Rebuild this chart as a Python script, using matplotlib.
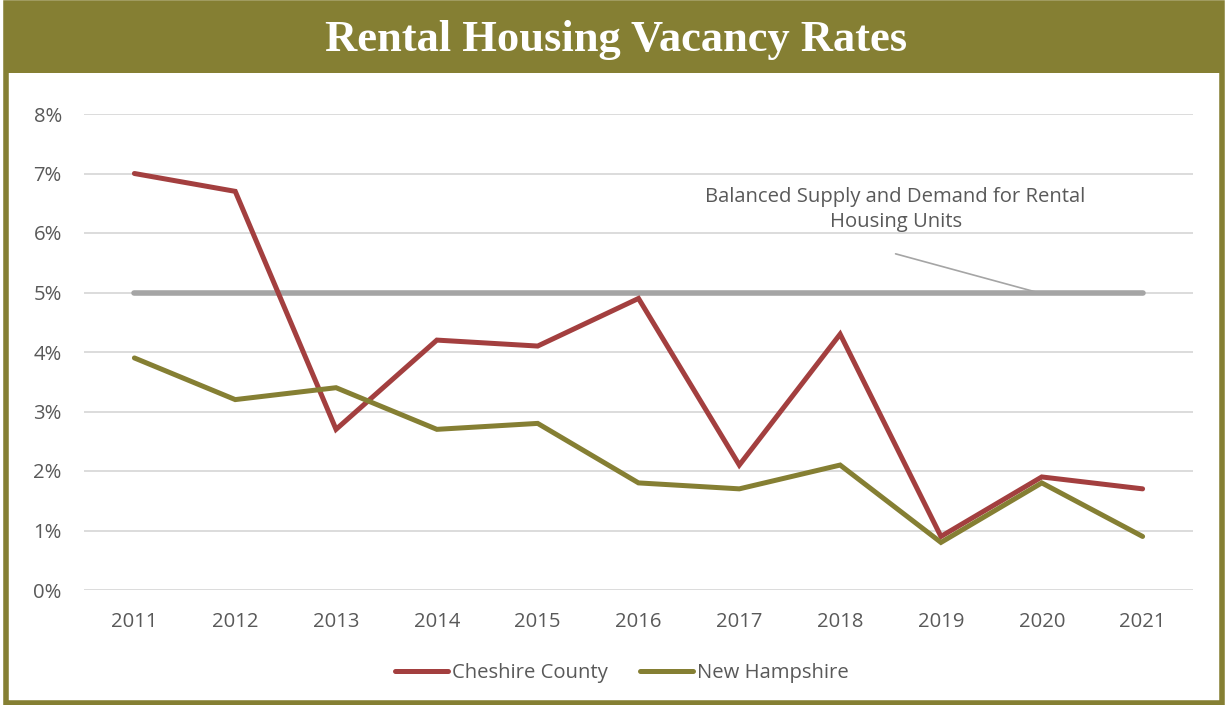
import matplotlib.pyplot as plt
from matplotlib.patches import Rectangle
from matplotlib.ticker import FuncFormatter

years = [2011, 2012, 2013, 2014, 2015, 2016, 2017, 2018, 2019, 2020, 2021]
cheshire = [7.0, 6.7, 2.7, 4.2, 4.1, 4.9, 2.1, 4.3, 0.9, 1.9, 1.7]
new_hampshire = [3.9, 3.2, 3.4, 2.7, 2.8, 1.8, 1.7, 2.1, 0.8, 1.8, 0.9]
balanced = [5.0] * len(years)

OLIVE = "#857F33"
RED = "#A33F3F"
GRAY_LINE = "#A5A5A5"
TEXT = "#595959"
FS = 14.6

W, H = 1225, 705
fig = plt.figure(figsize=(W / 100, H / 100), dpi=100)
plt.rcParams["font.family"] = ["Open Sans", "DejaVu Sans"]


def px(x0, y0, x1, y1):
    # pixel box (top-left origin) -> figure fraction rect
    return [x0 / W, 1 - y1 / H, (x1 - x0) / W, (y1 - y0) / H]


# outer frame and title bar
b = px(6, 3, 1222, 703)
fig.add_artist(Rectangle((b[0], b[1]), b[2], b[3], transform=fig.transFigure,
                         fill=False, edgecolor=OLIVE, linewidth=4))
t = px(4, 3, 1224, 73)
fig.add_artist(Rectangle((t[0], t[1]), t[2], t[3], transform=fig.transFigure,
                         facecolor=OLIVE, edgecolor="none"))
fig.text(616 / W, 1 - 40 / H, "Rental Housing Vacancy Rates", ha="center", va="center",
         color="white", fontsize=32, fontweight="bold", family="Liberation Serif")

ax = fig.add_axes(px(84, 114, 1193, 590))
ax.plot(years, balanced, color=GRAY_LINE, linewidth=4, solid_capstyle="round", zorder=3)
ax.plot(years, cheshire, color=RED, linewidth=3.6, solid_capstyle="round",
        solid_joinstyle="miter", label="Cheshire County", zorder=4)
ax.plot(years, new_hampshire, color=OLIVE, linewidth=3.6, solid_capstyle="round",
        solid_joinstyle="miter", label="New Hampshire", zorder=4)

ax.set_xlim(2010.5, 2021.5)
ax.set_ylim(0, 8)
ax.set_xticks(years)
ax.set_yticks(range(0, 9))
ax.yaxis.set_major_formatter(FuncFormatter(lambda v, p: f"{v:.0f}%"))
ax.grid(axis="y", color="#D9D9D9", linewidth=1.3)
ax.set_axisbelow(True)
for s in ax.spines.values():
    s.set_visible(False)
ax.tick_params(length=0, labelsize=FS, labelcolor=TEXT)
ax.tick_params(axis="y", pad=16)
ax.tick_params(axis="x", pad=16)

ax.text(2018.55, 6.02, "Balanced Supply and Demand for Rental\nHousing Units",
        ha="center", va="bottom", fontsize=FS, color=TEXT, linespacing=1.3)
ax.annotate("", xy=(2019.96, 5.0), xytext=(2018.55, 5.65),
            arrowprops=dict(arrowstyle="-", color="#A5A5A5", linewidth=1.2,
                            shrinkA=0, shrinkB=0))

fig.legend(loc="center", bbox_to_anchor=(622 / W, 1 - 673 / H), ncol=2, frameon=False,
           fontsize=FS, labelcolor=TEXT, handlelength=2.6, handletextpad=0.2,
           columnspacing=1.6)

fig.savefig("out.png", dpi=100)
